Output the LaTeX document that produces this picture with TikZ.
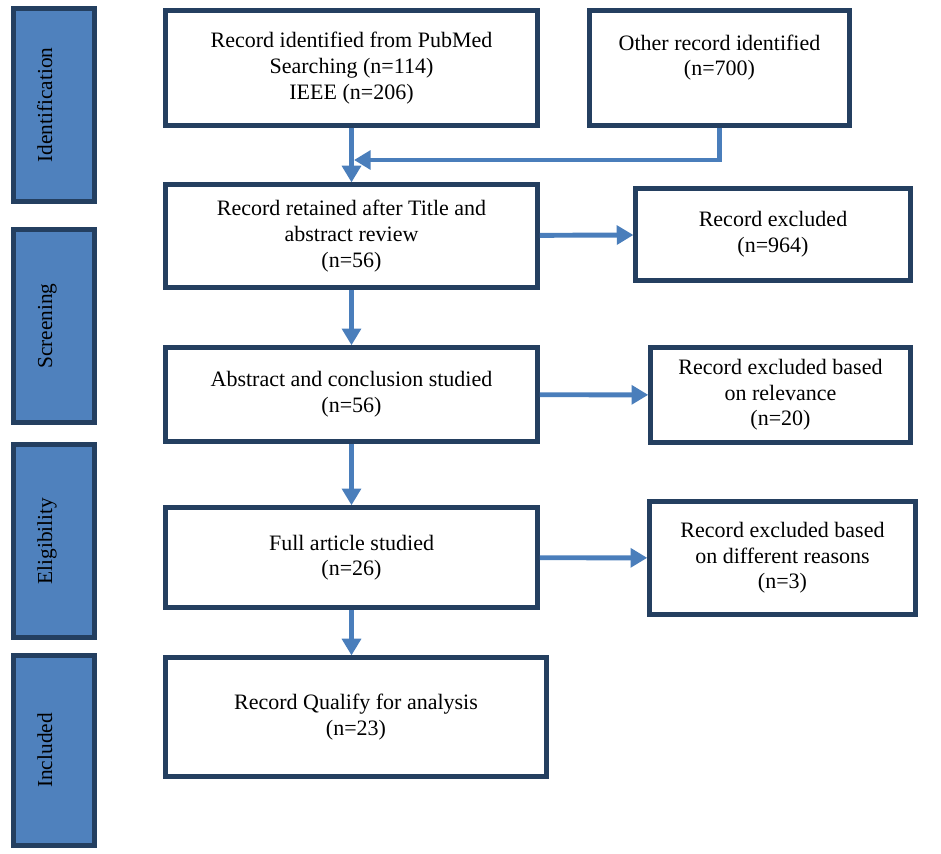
\documentclass[tikz,border=0pt]{standalone}
\usepackage{fontspec}
\setmainfont{Liberation Serif}
\usetikzlibrary{arrows.meta}
\definecolor{boxline}{HTML}{243F60}
\definecolor{flowblue}{HTML}{4A7EBB}
\definecolor{phasefill}{HTML}{4F81BD}
\begin{document}
\begin{tikzpicture}[
    x=0.75pt, y=-0.75pt,
    record/.style={rectangle, draw=boxline, line width=3.4pt, fill=white, align=center, inner sep=2pt, font=\fontsize{16.5}{19.2}\selectfont},
    phase/.style={rectangle, draw=boxline, line width=3.6pt, fill=phasefill, rotate=90, minimum width=145pt, minimum height=61pt, text height=11pt, text depth=14pt, font=\fontsize{16}{19}\selectfont},
    arrow/.style={-{Triangle[width=14pt, length=12.5pt]}, line width=3.7pt, draw=flowblue},
]
    \useasboundingbox (0,0) rectangle (941,853);

    % Phases
    \node[phase] (ident) at (54,105) {Identification};
    \node[phase] (screen) at (54,326) {Screening};
    \node[phase] (elig) at (54,541) {Eligibility};
    \node[phase, minimum width=142.5pt] (incl) at (54,750.5) {Included};

    % Identification
    \node[record, minimum width=279pt, minimum height=86pt] (pubmed) at (351.5,68) {Record identified from PubMed\\Searching (n=114)\\IEEE (n=206)};
    \node[record, minimum width=195pt, minimum height=86pt] (other) at (719.5,68) {Other record identified\\(n=700)\\~};

    % Screening
    \node[record, minimum width=279pt, minimum height=77pt] (retained) at (351.5,236) {Record retained after Title and\\abstract review\\(n=56)};
    \node[record, minimum width=206pt, minimum height=69pt] (screenout) at (773,234.5) {Record excluded\\(n=964)};
    \node[record, minimum width=279pt, minimum height=70.5pt] (abstract) at (351.5,394.5) {Abstract and conclusion studied\\(n=56)};
    \node[record, minimum width=195pt, minimum height=71pt] (relevance) at (780.5,395) {Record excluded based\\on relevance\\(n=20)};

    % Eligibility
    \node[record, minimum width=279pt, minimum height=75pt] (fullart) at (351.5,557.5) {Full article studied\\(n=26)};
    \node[record, minimum width=199.5pt, minimum height=85pt] (reasons) at (782.5,558) {Record excluded based\\on different reasons\\(n=3)};

    % Included
    \node[record, minimum width=286pt, minimum height=89pt] (qualify) at (356,717) {Record Qualify for analysis\\(n=23)};

    % Flow
    \coordinate (merge) at (354,160);
    \draw[arrow] (pubmed) -- (retained);
    \draw[arrow] (other.south) |- (merge);
    \draw[arrow] (retained) -- (screenout);
    \draw[arrow] (retained) -- (abstract);
    \draw[arrow] (abstract) -- (relevance);
    \draw[arrow] (abstract) -- (fullart);
    \draw[arrow] (fullart) -- (reasons);
    \draw[arrow] (fullart.south) -- (fullart.south |- qualify.north);
\end{tikzpicture}
\end{document}
